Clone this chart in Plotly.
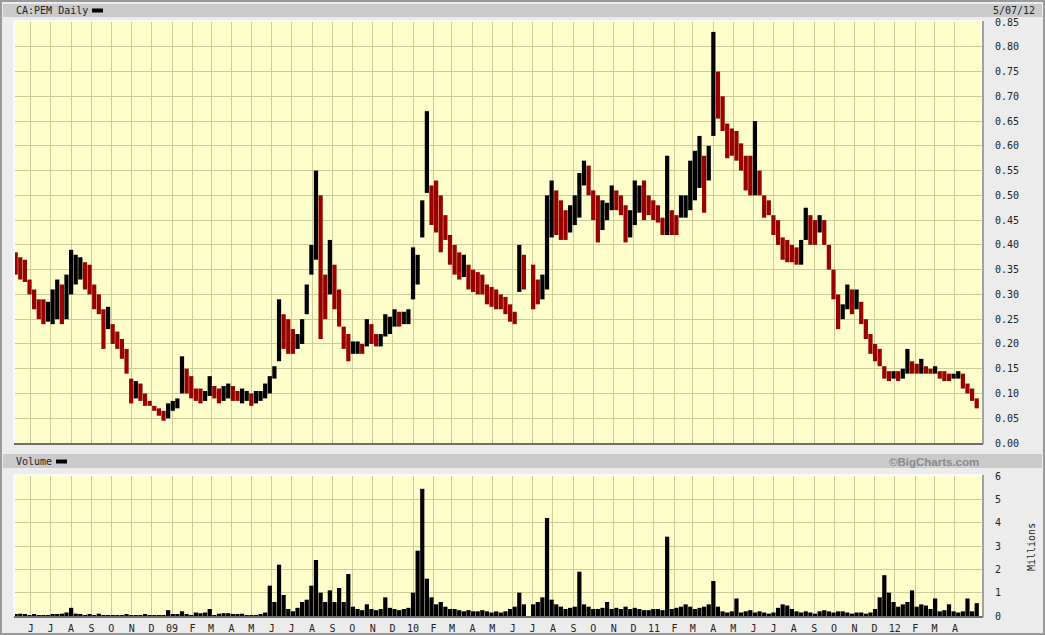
import plotly.graph_objects as go
import pandas as pd

# ---------------- data (weekly readings, prices in C$, volume in millions) ----------------
START = "2008-05-09"

HIGH = [
    .385, .375, .37, .33, .31, .29, .29, .285, .31, .33,
    .32, .34, .39, .38, .375, .365, .36, .32, .30, .27,
    .275, .24, .225, .21, .19, .13, .125, .12, .10, .085,
    .075, .07, .065, .08, .085, .09, .175, .15, .135, .11,
    .11, .105, .135, .115, .11, .115, .12, .115, .105, .11,
    .105, .10, .105, .105, .12, .135, .155, .29, .26, .25,
    .23, .22, .25, .32, .40, .55, .50, .34, .41, .36,
    .31, .235, .22, .205, .205, .20, .25, .24, .22, .22,
    .26, .255, .27, .265, .265, .27, .395, .38, .49, .67,
    .52, .53, .50, .46, .42, .40, .385, .38, .36, .35,
    .345, .34, .32, .315, .31, .30, .295, .28, .265, .40,
    .38, None, .36, .33, .34, .50, .53, .51, .49, .47,
    .48, .50, .545, .57, .56, .51, .50, .49, .485, .52,
    .51, .50, .48, .47, .53, .52, .53, .50, .49, .48,
    .455, .58, .47, .46, .50, .50, .57, .59, .62, .58,
    .60, .83, .75, .70, .645, .635, .63, .605, .58, .58,
    .65, .55, .50, .49, .46, .45, .415, .41, .40, .395,
    .41, .475, .46, .45, .46, .45, .40, .35, .30, .28,
    .32, .31, .31, .285, .25, .22, .20, .19, .155, .145,
    .145, .145, .15, .19, .165, .16, .17, .155, .15, .155,
    .145, .145, .14, .14, .145, .14, .12, .11, .09,
]

LOW = [
    .34, .33, .325, .30, .27, .25, .24, .245, .24, .25,
    .24, .25, .30, .32, .33, .31, .30, .27, .26, .19,
    .23, .20, .19, .17, .14, .08, .09, .085, .075, .075,
    .065, .055, .045, .05, .065, .07, .10, .10, .09, .085,
    .08, .085, .095, .09, .08, .085, .09, .085, .085, .08,
    .085, .075, .08, .085, .09, .10, .13, .165, .19, .18,
    .18, .19, .20, .26, .34, .37, .21, .25, .30, .27,
    .235, .19, .165, .18, .18, .18, .195, .20, .195, .195,
    .215, .22, .235, .235, .24, .24, .29, .32, .415, .505,
    .44, .425, .385, .41, .36, .34, .33, .335, .31, .305,
    .30, .30, .28, .275, .27, .27, .26, .245, .24, .305,
    .31, None, .27, .28, .29, .31, .415, .42, .41, .41,
    .425, .44, .455, .52, .50, .45, .405, .43, .45, .47,
    .47, .46, .405, .415, .44, .465, .45, .46, .45, .445,
    .42, .42, .42, .42, .455, .455, .47, .49, .515, .465,
    .53, .62, .655, .63, .575, .58, .57, .55, .51, .50,
    .50, .50, .455, .46, .42, .40, .37, .365, .365, .36,
    .36, .41, .40, .40, .425, .40, .35, .29, .23, .25,
    .27, .26, .27, .24, .21, .18, .165, .155, .13, .125,
    .13, .125, .13, .14, .14, .14, .14, .14, .14, .14,
    .13, .125, .125, .13, .13, .11, .10, .085, .07,
]

VOLUME = [
    .05, .1, .05, .03, .05, .02, .03, .03, .05, .05,
    .1, .15, .35, .1, .05, .03, .05, .03, .1, .03,
    .02, .03, .02, .03, .05, .03, .02, .02, .05, .02,
    .02, .02, .03, .25, .05, .05, .2, .08, .03, .15,
    .12, .15, .3, .03, .1, .12, .12, .08, .05, .1,
    .03, .03, .03, .05, .15, 1.3, .6, 2.2, .9, .3,
    .2, .35, .6, .7, 1.3, 2.4, 1.0, .6, 1.1, .6,
    1.2, .6, 1.8, .4, .3, .25, .5, .3, .25, .3,
    .8, .35, .3, .25, .3, .35, 1.0, 2.8, 5.45, 1.6,
    .8, .5, .6, .4, .3, .3, .25, .2, .25, .2,
    .2, .25, .2, .15, .2, .15, .2, .3, .4, 1.0,
    .5, 0, .5, .6, .8, 4.2, .7, .5, .4, .3,
    .35, .4, 1.9, .5, .4, .3, .3, .35, .6, .3,
    .35, .3, .4, .3, .35, .3, .25, .25, .3, .3,
    .25, 3.4, .3, .35, .4, .5, .4, .3, .35, .4,
    .5, 1.5, .4, .2, .15, .2, .75, .15, .2, .25,
    .15, .2, .15, .1, .15, .35, .5, .45, .3, .2,
    .15, .2, .15, .1, .2, .25, .2, .15, .2, .2,
    .15, .1, .15, .15, .1, .15, .3, .8, 1.75, 1.0,
    .6, .4, .5, .6, 1.1, .4, .5, .45, .3, .75,
    .2, .25, .5, .2, .15, .2, .75, .2, .55,
]

MONTH_LABELS = [
    "J", "J", "A", "S", "O", "N", "D",
    "09", "F", "M", "A", "M", "J", "J", "A", "S", "O", "N", "D",
    "10", "F", "M", "A", "M", "J", "J", "A", "S", "O", "N", "D",
    "11", "F", "M", "A", "M", "J", "J", "A", "S", "O", "N", "D",
    "12", "F", "M", "A",
]

PRICE_TICKS = [round(0.05 * k, 2) for k in range(18)]
VOLUME_TICKS = [0, 1, 2, 3, 4, 5, 6]

# ---------------- derived ----------------
dates = pd.date_range(START, periods=len(HIGH), freq="7D")
month_starts = pd.date_range("2008-06-01", periods=len(MONTH_LABELS), freq="MS")

spans, colors = [], []
prev_mid = None
for h, l in zip(HIGH, LOW):
    if h is None or l is None:
        spans.append(None)
        colors.append("#000000")
        continue
    mid = (h + l) / 2
    spans.append(h - l)
    colors.append("#990000" if prev_mid is None or mid < prev_mid else "#000000")
    prev_mid = mid

W, H = 1045, 635
def px(x):
    return x / W
def py(y):
    return 1 - y / H

X_RANGE = ["2008-05-08", "2012-05-12"]
DAY_MS = 86400000
GRID = "#cccc99"
FONT = "DejaVu Sans Mono"

fig = go.Figure()
fig.add_trace(go.Bar(
    x=dates, y=spans, base=LOW, marker_color=colors, marker_line_width=0,
    width=6.4 * DAY_MS, xaxis="x", yaxis="y", hoverinfo="skip", showlegend=False,
))
fig.add_trace(go.Bar(
    x=dates, y=VOLUME, marker_color="#000000", marker_line_width=0,
    width=6.4 * DAY_MS, xaxis="x2", yaxis="y2", hoverinfo="skip", showlegend=False,
))

plot_x = [px(15), px(982)]
axis_common = dict(gridcolor=GRID, gridwidth=1, showline=False, zeroline=False, automargin=False)
tick_font = dict(family=FONT, size=10, color="#222222")

fig.update_layout(
    width=W, height=H, autosize=False,
    margin=dict(l=0, r=0, t=0, b=0, pad=0, autoexpand=False),
    paper_bgcolor="#ececec",
    plot_bgcolor="#ffffcc",
    barmode="overlay",
    showlegend=False,
    font=dict(family=FONT, size=10, color="#222222"),
    xaxis=dict(domain=plot_x, anchor="y", type="date", range=X_RANGE,
               tickvals=month_starts, showticklabels=False, ticks="", **axis_common),
    yaxis=dict(domain=[py(443), py(22)], anchor="x", range=[0, 0.85],
               tickvals=PRICE_TICKS, tickformat=".2f", side="right",
               ticks="outside", ticklen=10, tickcolor="rgba(0,0,0,0)",
               tickfont=tick_font, **axis_common),
    xaxis2=dict(domain=plot_x, anchor="y2", type="date", range=X_RANGE,
                tickvals=month_starts, ticktext=MONTH_LABELS, ticks="outside",
                ticklen=3, tickcolor="rgba(0,0,0,0)",
                tickfont=tick_font, **axis_common),
    yaxis2=dict(domain=[py(616), py(476)], anchor="x2", range=[0, 6],
                tickvals=VOLUME_TICKS, side="right",
                ticks="outside", ticklen=10, tickcolor="rgba(0,0,0,0)",
                tickfont=tick_font, **axis_common),
)

shapes = [
    # outer frame
    dict(type="rect", xref="paper", yref="paper", x0=px(1), x1=px(1044), y0=py(634), y1=py(1),
         line=dict(color="#9a9a9a", width=2), fillcolor="rgba(0,0,0,0)", layer="below"),
    # header bars
    dict(type="rect", xref="paper", yref="paper", x0=px(3), x1=px(1042), y0=py(17), y1=py(4),
         line=dict(width=0), fillcolor="#cacaca", layer="below"),
    dict(type="rect", xref="paper", yref="paper", x0=px(3), x1=px(1042), y0=py(468), y1=py(454),
         line=dict(width=0), fillcolor="#cacaca", layer="below"),
    # legend swatches
    dict(type="rect", xref="paper", yref="paper", x0=px(92), x1=px(103), y0=py(12.5), y1=py(8.5),
         line=dict(width=0), fillcolor="#000000"),
    dict(type="rect", xref="paper", yref="paper", x0=px(56), x1=px(67), y0=py(463.5), y1=py(459.5),
         line=dict(width=0), fillcolor="#000000"),
]
# bevel edges of both plot areas
for top, bot in [(22, 443), (476, 616)]:
    shapes += [
        dict(type="line", xref="paper", yref="paper", x0=px(14), x1=px(982), y0=py(top - 1), y1=py(top - 1),
             line=dict(color="#ffffff", width=1.5)),
        dict(type="line", xref="paper", yref="paper", x0=px(14), x1=px(14), y0=py(bot), y1=py(top - 1),
             line=dict(color="#ffffff", width=1.5)),
        dict(type="line", xref="paper", yref="paper", x0=px(14), x1=px(983), y0=py(bot + 1), y1=py(bot + 1),
             line=dict(color="#6e6e6e", width=2)),
        dict(type="line", xref="paper", yref="paper", x0=px(983), x1=px(983), y0=py(bot + 1), y1=py(top - 1),
             line=dict(color="#8a8a8a", width=1.5)),
    ]
fig.update_layout(shapes=shapes)

ann = [
    dict(text="CA:PEM Daily", x=px(14), y=py(10.5), xanchor="left", yanchor="middle"),
    dict(text="5/07/12", x=px(1037), y=py(10.5), xanchor="right", yanchor="middle"),
    dict(text="Volume", x=px(14), y=py(461.5), xanchor="left", yanchor="middle"),
    dict(text="<b>©BigCharts.com</b>", x=px(981), y=py(461.5), xanchor="right", yanchor="middle",
         font=dict(family="Liberation Sans", size=11.5, color="#8a8a8a")),
    dict(text="Millions", x=px(1031), y=py(547), xanchor="center", yanchor="middle", textangle=-90),
]
for a in ann:
    a.setdefault("font", dict(family=FONT, size=10, color="#222222"))
    a.update(xref="paper", yref="paper", showarrow=False)
fig.update_layout(annotations=ann)

fig.write_html(
    "out.html",
    config={"displayModeBar": False},
    post_script="document.body.style.margin='0';document.body.style.overflow='hidden';",
)
